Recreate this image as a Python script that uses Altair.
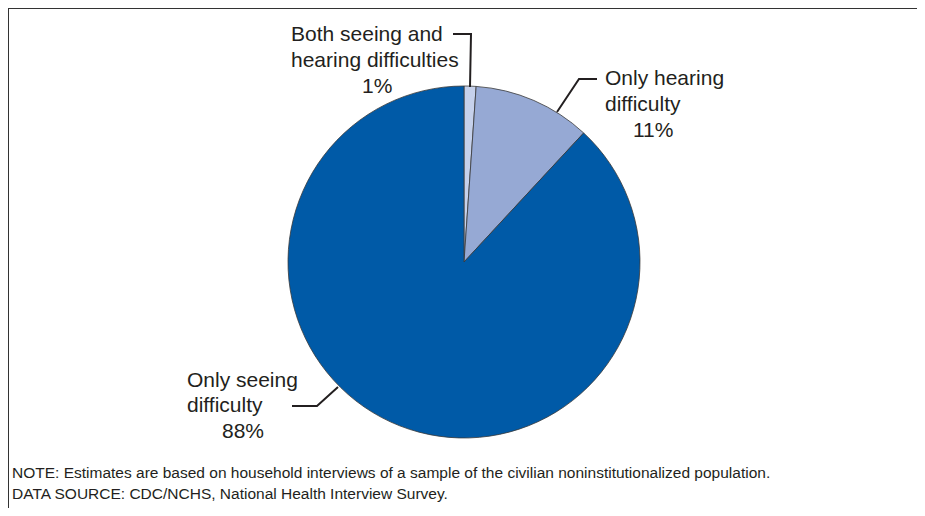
import altair as alt
import pandas as pd

# ---- data ----
categories = ["Both seeing and hearing difficulties", "Only hearing difficulty", "Only seeing difficulty"]
values = [1.1, 10.8, 88.1]
order = [0, 1, 2]
colors = ["#c6d1eb", "#96a9d4", "#005aa7"]

# label lines (text) per slice
label_lines = ["Both seeing and", "hearing difficulties", "1%",
               "Only hearing", "difficulty", "11%",
               "Only seeing", "difficulty", "88%"]

note_lines = [
    "NOTE: Estimates are based on household interviews of a sample of the civilian noninstitutionalized population.",
    "DATA SOURCE: CDC/NCHS, National Health Interview Survey.",
]

# ---- layout (chart pixel coordinates) ----
W, H = 909, 500
CX, CY, R = 456, 254, 176
label_x = [283, 283, 354, 597, 597, 625, 179, 179, 214]
label_y = [33, 59, 85, 77, 103, 129, 379, 404, 430]
leader_pts = [
    (0, 445, 26), (0, 463, 26), (0, 462, 79),
    (1, 589, 71), (1, 571, 71), (1, 549, 104),
    (2, 284, 398), (2, 309, 398), (2, 330, 379),
]
note_x = 4
note_y = [470, 491]

pie_df = pd.DataFrame({"category": categories, "value": values, "order": order})
lab_df = pd.DataFrame({"text": label_lines, "x": label_x, "y": label_y})
lead_df = pd.DataFrame(leader_pts, columns=["g", "x", "y"])
lead_df["i"] = range(len(lead_df))
note_df = pd.DataFrame({"text": note_lines, "x": note_x, "y": note_y})

FONT = "Liberation Sans"

pie = alt.Chart(pie_df).mark_arc(outerRadius=R, stroke="#3a3a3a", strokeWidth=0.8).encode(
    theta=alt.Theta("value:Q", stack=True),
    order=alt.Order("order:Q"),
    color=alt.Color("category:N", scale=alt.Scale(domain=categories, range=colors), legend=None),
    x=alt.value(CX),
    y=alt.value(CY),
)

labels = alt.Chart(lab_df).mark_text(align="left", baseline="alphabetic", font=FONT,
                                     fontSize=21, color="#231f20").encode(
    x=alt.X("x:Q", scale=None, axis=None),
    y=alt.Y("y:Q", scale=None, axis=None),
    text="text:N",
)

leaders = alt.Chart(lead_df).mark_line(color="#231f20", strokeWidth=2).encode(
    x=alt.X("x:Q", scale=None, axis=None),
    y=alt.Y("y:Q", scale=None, axis=None),
    detail="g:N",
    order="i:Q",
)

notes = alt.Chart(note_df).mark_text(align="left", baseline="alphabetic", font=FONT,
                                    fontSize=15.5, color="#231f20").encode(
    x=alt.X("x:Q", scale=None, axis=None),
    y=alt.Y("y:Q", scale=None, axis=None),
    text="text:N",
)

frame_top = alt.Chart(pd.DataFrame({"a": [0]})).mark_rule(color="#333333", strokeWidth=2).encode(
    x=alt.value(0), x2=alt.value(W), y=alt.value(0)
)
frame_left = alt.Chart(pd.DataFrame({"a": [0]})).mark_rule(color="#333333", strokeWidth=2).encode(
    x=alt.value(0), y=alt.value(0), y2=alt.value(H)
)

chart = alt.layer(pie, leaders, labels, notes, frame_top, frame_left).properties(
    width=W, height=H, autosize=alt.AutoSizeParams(type="none"), padding=0,
    background="white",
).configure_view(stroke=None)

chart.save("out.html", embed_options={"renderer": "svg", "actions": False})
